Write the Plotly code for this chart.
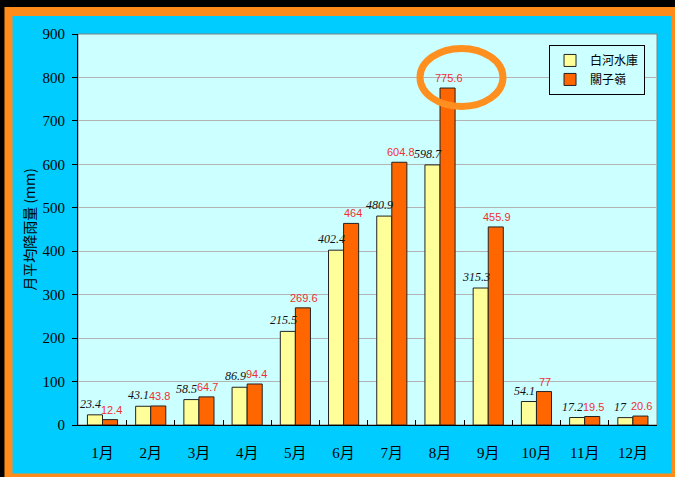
import plotly.graph_objects as go

months = ['1月', '2月', '3月', '4月', '5月', '6月', '7月', '8月', '9月', '10月', '11月', '12月']
baihe = [23.4, 43.1, 58.5, 86.9, 215.5, 402.4, 480.9, 598.7, 315.3, 54.1, 17.2, 17]
guanziling = [12.4, 43.8, 64.7, 94.4, 269.6, 464, 604.8, 775.6, 455.9, 77, 19.5, 20.6]
names = ['白河水庫', '關子嶺']

serif = 'Liberation Serif, Noto Sans CJK TC'
cjk = 'Noto Sans CJK TC, Liberation Sans'

fig = go.Figure()
fig.add_trace(go.Bar(x=months, y=baihe, name=names[0],
                     marker=dict(color='#FFFF99', line=dict(color='#222222', width=1))))
fig.add_trace(go.Bar(x=months, y=guanziling, name=names[1],
                     marker=dict(color='#FF6600', line=dict(color='#222222', width=1))))

# value labels above bars
annotations = []
for m, v in zip(months, baihe):
    annotations.append(dict(x=m, y=v, text=f'{v:g}', showarrow=False,
                            xanchor='center', yanchor='bottom', xshift=-12, yshift=2,
                            font=dict(family='Liberation Serif', size=12, color='#111111',
                                      style='italic')))
for m, v in zip(months, guanziling):
    annotations.append(dict(x=m, y=v, text=f'{v:g}', showarrow=False,
                            xanchor='center', yanchor='bottom', xshift=9, yshift=2,
                            font=dict(family='Liberation Sans', size=11, color='#F03030')))

shapes = [
    # orange frame and cyan panel behind everything
    dict(type='rect', xref='paper', yref='paper', x0=-0.127, x1=1.04, y0=-0.141, y1=1.069,
         fillcolor='#FF8C1A', line=dict(width=0), layer='below'),
    dict(type='rect', xref='paper', yref='paper', x0=-0.1131, x1=1.025, y0=-0.124, y1=1.046,
         fillcolor='#00CCFF', line=dict(width=0), layer='below'),
    dict(type='rect', xref='paper', yref='paper', x0=0, x1=1, y0=0, y1=1,
         fillcolor='#CCFFFF', line=dict(color='#808080', width=1), layer='below'),
    # highlight ring round the August peak
    dict(type='circle', xref='paper', yref='paper', x0=0.5907, x1=0.734, y0=0.8146, y1=0.963,
         line=dict(color='#FF9020', width=7), layer='above'),
]

fig.update_layout(
    width=675, height=477,
    margin=dict(l=78, r=18, t=34, b=52),
    paper_bgcolor='black',
    plot_bgcolor='rgba(0,0,0,0)',
    barmode='group',
    bargap=0.375,
    bargroupgap=0,
    showlegend=True,
    legend=dict(x=0.8135, y=0.972, xanchor='left', yanchor='top',
                bgcolor='#CCFFFF', bordercolor='black', borderwidth=1,
                font=dict(family=cjk, size=12, color='black'),
                itemwidth=30, tracegroupgap=0),
    xaxis=dict(type='category', tickson='boundaries', ticks='inside', ticklen=5,
               tickcolor='black', showline=True, linecolor='black', linewidth=1,
               showgrid=False, ticklabelstandoff=14,
               tickfont=dict(family=serif, size=15, color='black')),
    yaxis=dict(range=[0, 900], dtick=100, ticks='outside', ticklen=5, tickcolor='black',
               showline=True, linecolor='black', linewidth=1,
               gridcolor='#B4B4B4', gridwidth=1, zeroline=False,
               ticklabelstandoff=4,
               tickfont=dict(family=serif, size=15, color='black'),
               title=dict(text='月平均降雨量 (mm)', standoff=3,
                          font=dict(family=cjk, size=14, color='black'))),
    shapes=shapes,
    annotations=annotations,
)

fig.write_html("out.html", config={'displayModeBar': False},
               post_script="document.body.style.margin='0';")
